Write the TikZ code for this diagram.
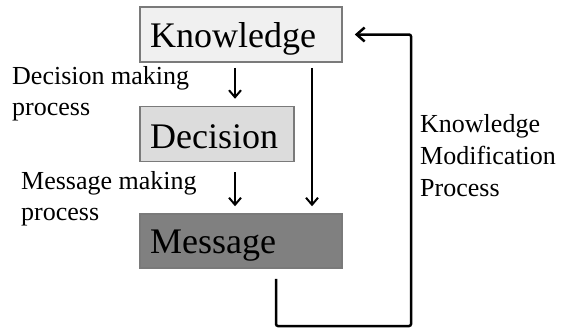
\documentclass[tikz,border=0pt]{standalone}
\usepackage{fontspec}
\setmainfont{Liberation Serif}
\usetikzlibrary{arrows.meta}
\definecolor{boxline}{HTML}{7A7A7A}
\definecolor{kfill}{HTML}{F0F0F0}
\definecolor{dfill}{HTML}{DCDCDC}
\definecolor{mfill}{HTML}{808080}
\tikzset{
  box/.style={draw=boxline, line width=1.5pt, minimum height=55pt, inner sep=0pt},
  bigtext/.style={anchor=base west, inner sep=0pt, font=\fontsize{36}{40}\selectfont},
  smalltext/.style={anchor=base west, inner sep=0pt, align=left, font=\fontsize{26}{31}\selectfont},
  arr/.style={line width=2pt, -{Straight Barb[length=7pt,width=12pt,line width=2pt]}},
  fb/.style={line width=2.5pt, -{Straight Barb[length=8pt,width=14pt,line width=2.5pt]}}
}
\begin{document}
\begin{tikzpicture}[x=1pt,y=-1pt]
\useasboundingbox (0,0) rectangle (563,332);
\node[box, fill=kfill, minimum width=202pt] (know) at (241,34.5) {};
\node[box, fill=dfill, minimum width=154pt] (dec) at (217,134) {};
\node[box, fill=mfill, minimum width=202pt, minimum height=54pt] (msg) at (241,241) {};
\node[bigtext] (knowt) at (150,47) {Knowledge};
\node[bigtext] (dect) at (150,148) {Decision};
\node[bigtext] (msgt) at (150,253) {Message};
\node[smalltext] (dmp) at (12,115) {Decision making\\process};
\node[smalltext] (mmp) at (21,220) {Message making\\process};
\node[smalltext, font=\fontsize{26}{32}\selectfont] (kmp) at (420,196) {Knowledge\\Modification\\Process};
\coordinate (c1) at (235,0);
\coordinate (c2) at (312,0);
\coordinate (c3) at (276,0);
\coordinate (r) at (411,326);
\draw[arr, shorten <=5pt, shorten >=7pt] (c1 |- know.south) -- (c1 |- dec.north);
\draw[arr, shorten <=10pt, shorten >=7pt] (c1 |- dec.south) -- (c1 |- msg.north);
\draw[arr, shorten <=5pt, shorten >=7pt] (c2 |- know.south) -- (c2 |- msg.north);
\draw[fb, rounded corners=2pt, shorten <=10pt, shorten >=12pt] (c3 |- msg.south) |- (r) |- (know.east);
\end{tikzpicture}
\end{document}
